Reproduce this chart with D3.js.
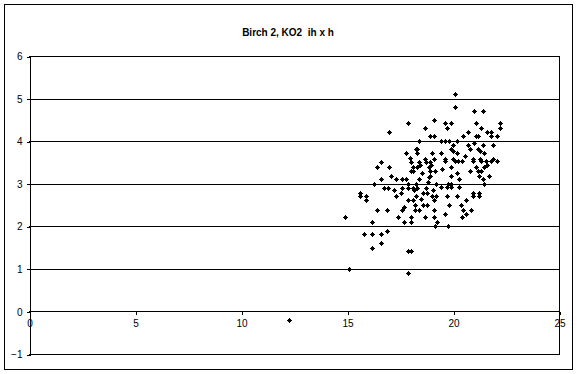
<!DOCTYPE html>
<html>
<head>
<meta charset="utf-8">
<script src="https://cdn.jsdelivr.net/npm/d3@7"></script>
<style>
  body { margin: 0; background: #fff; }
  text { font-family: "Liberation Sans", Arial, sans-serif; fill: #000; }
</style>
</head>
<body>
<svg id="chart" width="577" height="374"></svg>
<script>
// Chart text
var title = "Birch 2, KO2  ih x h";
var xTicks = [0, 5, 10, 15, 20, 25];
var yTicks = [-1, 0, 1, 2, 3, 4, 5, 6];

// h values (x)
var hValues = [
  17.86, 16.98, 19.10, 18.69, 18.93, 19.10, 18.38, 18.24, 18.30, 18.29,
  17.78, 19.00, 16.60, 18.00, 18.38, 18.73, 18.90, 18.66, 19.10, 16.40,
  16.98, 18.13, 18.29, 18.85, 18.00, 18.10, 18.92, 19.15, 17.06, 18.90,
  16.60, 17.30, 17.58, 17.78, 18.38, 16.27, 17.86, 18.24, 19.20, 16.76,
  16.95, 17.58, 17.90, 18.10, 18.29, 18.73, 15.61, 15.61, 15.90, 17.31,
  17.55, 18.24, 18.57, 18.79, 19.00, 19.20, 15.90, 17.86, 18.10, 18.19,
  18.58, 18.79, 19.10, 16.40, 16.87, 17.58, 18.19, 18.38, 19.10, 14.89,
  17.39, 18.00, 18.68, 19.10, 16.18, 17.67, 18.00, 19.26, 19.17, 16.87,
  15.79, 16.18, 16.59, 16.59, 16.18, 17.86, 18.00, 15.09, 17.86, 20.08,
  20.08, 20.99, 21.40, 19.61, 19.92, 19.70, 21.08, 21.30, 22.20, 22.20,
  20.69, 20.49, 21.08, 21.20, 21.62, 21.77, 21.77, 22.09, 19.42, 19.61,
  19.80, 20.17, 19.98, 20.70, 21.40, 21.87, 19.92, 19.98, 20.80, 21.19,
  21.27, 20.17, 21.46, 19.42, 19.61, 20.01, 20.10, 20.25, 20.41, 19.61,
  20.96, 20.96, 21.27, 21.30, 21.56, 21.87, 21.78, 22.09, 19.92, 21.08,
  21.46, 20.80, 21.19, 21.30, 19.92, 21.21, 21.68, 20.30, 21.40, 19.42,
  19.70, 19.90, 19.75, 19.90, 20.30, 21.45, 19.70, 20.17, 20.96, 21.24,
  20.96, 21.24, 19.80, 20.39, 20.61, 19.61, 20.49, 20.86, 20.61, 20.41,
  19.78, 12.26, 18.45, 18.55, 17.95, 18.80, 19.05, 18.15, 17.70, 18.50,
  20.55, 21.00, 19.50, 18.95, 17.20, 18.85, 20.20, 21.60
];

// ih values (y)
var ihValues = [
  4.42, 4.21, 4.50, 4.32, 4.11, 4.11, 4.01, 3.81, 3.81, 3.72,
  3.72, 3.72, 3.52, 3.52, 3.52, 3.52, 3.52, 3.58, 3.58, 3.40,
  3.40, 3.40, 3.40, 3.40, 3.31, 3.31, 3.31, 3.31, 3.19, 3.19,
  3.11, 3.11, 3.11, 3.11, 3.11, 3.00, 3.00, 3.00, 3.00, 2.91,
  2.91, 2.91, 2.91, 2.91, 2.91, 2.91, 2.79, 2.72, 2.72, 2.72,
  2.79, 2.72, 2.79, 2.79, 2.72, 2.72, 2.61, 2.61, 2.61, 2.50,
  2.50, 2.50, 2.61, 2.39, 2.39, 2.39, 2.39, 2.39, 2.39, 2.21,
  2.21, 2.21, 2.21, 2.21, 2.11, 2.11, 2.11, 2.11, 2.00, 1.90,
  1.81, 1.81, 1.81, 1.61, 1.50, 1.41, 1.41, 1.00, 0.91, 5.11,
  4.81, 4.71, 4.71, 4.42, 4.42, 4.32, 4.42, 4.32, 4.42, 4.32,
  4.21, 4.11, 4.11, 4.11, 4.21, 4.21, 4.11, 4.11, 4.01, 4.01,
  4.01, 4.01, 3.91, 3.91, 3.91, 3.91, 3.81, 3.76, 3.81, 3.81,
  3.76, 3.72, 3.72, 3.72, 3.58, 3.58, 3.54, 3.54, 3.54, 3.54,
  3.58, 3.54, 3.58, 3.54, 3.54, 3.58, 3.54, 3.54, 3.40, 3.40,
  3.40, 3.31, 3.31, 3.31, 3.19, 3.19, 3.19, 3.11, 3.11, 2.92,
  2.92, 2.92, 3.00, 3.00, 2.92, 3.00, 2.72, 2.72, 2.78, 2.78,
  2.72, 2.72, 2.51, 2.51, 2.61, 2.30, 2.39, 2.39, 2.30, 2.21,
  2.00, -0.19, 3.45, 3.25, 3.60, 3.05, 2.85, 2.85, 2.45, 2.65,
  3.65, 3.95, 3.35, 3.45, 2.85, 3.15, 3.25, 3.45
];

var points = hValues.map((h, i) => ({ h: h, ih: ihValues[i] }));

var svg = d3.select("#chart");
var plot = { left: 29, right: 559, top: 56, bottom: 354 };

var x = d3.scaleLinear().domain([0, 25]).range([plot.left, plot.right]);
var y = d3.scaleLinear().domain([-1, 6]).range([plot.bottom, plot.top]);

// Outer chart border
svg.append("rect")
  .attr("x", 4.5).attr("y", 4.5)
  .attr("width", 568).attr("height", 365)
  .attr("fill", "#fff")
  .attr("stroke", "#000")
  .attr("stroke-width", 1);

// Title
svg.append("text")
  .attr("x", 288).attr("y", 36)
  .attr("text-anchor", "middle")
  .style("font-size", "10px")
  .style("font-weight", "bold")
  .style("white-space", "pre")
  .text(title);

// Horizontal gridlines
svg.append("g")
  .selectAll("line")
  .data(yTicks)
  .enter()
  .append("line")
  .attr("x1", plot.left).attr("x2", plot.right)
  .attr("y1", d => Math.round(y(d)) + 0.5)
  .attr("y2", d => Math.round(y(d)) + 0.5)
  .attr("stroke", "#000")
  .attr("shape-rendering", "crispEdges");

// Right edge of plot area
svg.append("line")
  .attr("x1", plot.right + 0.5).attr("x2", plot.right + 0.5)
  .attr("y1", plot.top).attr("y2", plot.bottom + 1)
  .attr("stroke", "#000")
  .attr("shape-rendering", "crispEdges");

// Y axis (line at x = 0)
var yAxis = d3.axisLeft(y)
  .tickValues(yTicks)
  .tickSize(3)
  .tickPadding(4)
  .tickFormat(d3.format("d"));
var gy = svg.append("g")
  .attr("transform", "translate(" + (plot.left + 0.5) + ",0.5)")
  .call(yAxis);
gy.selectAll("path, line").attr("shape-rendering", "crispEdges");
gy.selectAll("text").style("font-size", "10px").style("font-family", "Liberation Sans, Arial, sans-serif");

// X axis (crosses at y = 0), ticks below the line
var xAxis = d3.axisBottom(x)
  .tickValues(xTicks)
  .tickSize(3)
  .tickPadding(5)
  .tickSizeOuter(0)
  .tickFormat(d3.format("d"));
var gx = svg.append("g")
  .attr("transform", "translate(0.5," + (Math.round(y(0)) + 0.5) + ")")
  .call(xAxis);
gx.select(".domain").remove();
gx.selectAll("line").attr("shape-rendering", "crispEdges");
gx.selectAll("text").style("font-size", "10px").style("font-family", "Liberation Sans, Arial, sans-serif");

// Scatter markers: pixel diamonds (rows of 1, 3, 5, 3, 1 pixels)
var marker = "M0,-2H1V-1H2V0H3V1H2V2H1V3H0V2H-1V1H-2V0H-1V-1H0Z";
svg.append("g")
  .attr("shape-rendering", "crispEdges")
  .selectAll("path")
  .data(points)
  .enter()
  .append("path")
  .attr("d", marker)
  .attr("transform", d => "translate(" + Math.round(x(d.h)) + "," + Math.round(y(d.ih)) + ")")
  .attr("fill", "#000");
</script>
</body>
</html>
